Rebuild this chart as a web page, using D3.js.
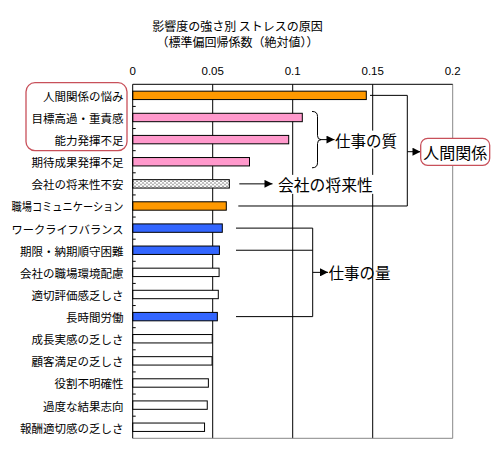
<!DOCTYPE html>
<html><head><meta charset="utf-8">
<script src="https://cdn.jsdelivr.net/npm/d3@7"></script>
<style>
html,body{margin:0;padding:0;background:#fff;}
svg{display:block;}
text{font-family:"Noto Sans CJK JP","Noto Sans",sans-serif;fill:#000;}
</style></head>
<body>
<script>
const categories = ["人間関係の悩み","目標高過・重責感","能力発揮不足","期待成果発揮不足","会社の将来性不安","職場コミュニケーション","ワークライフバランス","期限・納期順守困難","会社の職場環境配慮","適切評価感乏しさ","長時間労働","成長実感の乏しさ","顧客満足の乏しさ","役割不明確性","過度な結果志向","報酬適切感の乏しさ"];
const values = [0.146,0.106,0.0975,0.073,0.0604,0.0585,0.056,0.0542,0.0540,0.0535,0.0529,0.0497,0.0496,0.0473,0.0466,0.0449];
const groups = ["human","quality","quality","quality","future","human","amount","amount","none","none","amount","none","none","none","none","none"];
const tickValues = [0,0.05,0.1,0.15,0.2];
const tickLabels = ["0","0.05","0.1","0.15","0.2"];
const titleLines = ["影響度の強さ別  ストレスの原因","（標準偏回帰係数（絶対値））"];

const W=491,H=449;
const svg=d3.select("body").append("svg").attr("width",W).attr("height",H);
const defs=svg.append("defs");
const pat=defs.append("pattern").attr("id","dots").attr("patternUnits","userSpaceOnUse").attr("width",4).attr("height",3.4);
pat.append("rect").attr("width",4).attr("height",3.4).attr("fill","#fff");
pat.append("rect").attr("x",0.5).attr("y",0.5).attr("width",1).attr("height",1).attr("fill","#000");
pat.append("rect").attr("x",2.5).attr("y",2.2).attr("width",1).attr("height",1).attr("fill","#000");
defs.append("marker").attr("id","arr").attr("viewBox","0 0 10 10").attr("refX",10).attr("refY",5)
  .attr("markerWidth",9).attr("markerHeight",8).attr("markerUnits","userSpaceOnUse").attr("orient","auto")
  .append("path").attr("d","M0,0L10,5L0,10Z").attr("fill","#000");

const pL=132.7,pR=452.7,pT=84.3,pB=438.3;
const x=d3.scaleLinear().domain([0,0.2]).range([pL,pR]);
const y=d3.scaleBand().domain(categories).range([pT,pB]).padding(0);
const step=y.step(), barH=8.4;
const yc=c=>y(c)+step/2;
const fills={human:"#FF9900",quality:"#FF99CC",future:"url(#dots)",amount:"#3366FF",none:"#FFFFFF"};

// title
svg.selectAll("text.title").data(titleLines).join("text").attr("class","title")
  .attr("x",237.5).attr("y",(d,i)=>25+i*16.5).attr("text-anchor","middle").attr("dominant-baseline","central")
  .attr("font-size",12).text(d=>d);

// gridlines
svg.append("g").selectAll("line").data(tickValues.slice(1,4)).join("line")
  .attr("x1",d=>x(d)).attr("x2",d=>x(d)).attr("y1",pT).attr("y2",pB).attr("stroke","#000").attr("stroke-width",1);
svg.append("line").attr("x1",pR).attr("x2",pR).attr("y1",pT).attr("y2",pB).attr("stroke","#888");
svg.append("line").attr("x1",pL).attr("x2",pR).attr("y1",pB).attr("y2",pB).attr("stroke","#888");
svg.append("line").attr("x1",pL).attr("x2",pR).attr("y1",pT).attr("y2",pT).attr("stroke","#000");

// top axis labels
svg.append("g").selectAll("text").data(tickValues).join("text")
  .attr("x",d=>x(d)).attr("y",71).attr("text-anchor","middle").attr("dominant-baseline","central")
  .style("font-family",'"Liberation Sans Narrow","Liberation Sans",sans-serif').attr("font-size",11.5)
  .text((d,i)=>tickLabels[i]);

// bars
svg.append("g").selectAll("rect").data(categories).join("rect")
  .attr("x",x(0)).attr("y",d=>yc(d)-barH/2).attr("width",(d,i)=>x(values[i])-x(0)).attr("height",barH)
  .attr("fill",(d,i)=>fills[groups[i]]).attr("stroke","#000").attr("stroke-width",1);

// left axis
svg.append("line").attr("x1",pL).attr("x2",pL).attr("y1",pT).attr("y2",pB).attr("stroke","#000");
svg.append("g").selectAll("line").data(categories.slice(1)).join("line")
  .attr("x1",pL).attr("x2",pL+3).attr("y1",d=>y(d)).attr("y2",d=>y(d)).attr("stroke","#000");

// category labels
svg.append("g").selectAll("text").data(categories).join("text")
  .attr("x",123.5).attr("y",d=>yc(d)+0.5).attr("text-anchor","end").attr("dominant-baseline","central")
  .attr("font-size",11.5).text(d=>d)
  .each(function(){const l=this.getComputedTextLength(); if(l>112){d3.select(this).attr("textLength",112).attr("lengthAdjust","spacingAndGlyphs");}});

// annotations
const red="#C8505A";
const ann=svg.append("g").attr("fill","none").attr("stroke","#000").attr("stroke-width",1);
svg.append("rect").attr("x",26).attr("y",82.7).attr("width",101).attr("height",68).attr("rx",9)
  .attr("fill","none").attr("stroke",red).attr("stroke-width",1.3);

const c0=categories[0], c5=categories[5];
ann.append("path").attr("d",`M370,${yc(c0)}H407.3V${yc(c5)}H238.3`);
ann.append("line").attr("x1",407.3).attr("x2",420.5).attr("y1",151.7).attr("y2",151.7).attr("marker-end","url(#arr)");
svg.append("rect").attr("x",420.7).attr("y",138.3).attr("width",69).attr("height",27).attr("rx",7)
  .attr("fill","#fff").attr("stroke",red).attr("stroke-width",1.3);
svg.append("text").attr("x",455.2).attr("y",152).attr("text-anchor","middle").attr("dominant-baseline","central")
  .attr("font-size",16).text("人間関係");

const b1=y(categories[1])+5, b3=y(categories[3])+step-5, bm=(b1+b3)/2;
ann.append("path").attr("d",`M312,${b1}Q317.5,${b1} 317.5,${b1+5}V${bm-4}Q317.5,${bm} 321,${bm}Q317.5,${bm} 317.5,${bm+4}V${b3-5}Q317.5,${b3} 312,${b3}`);
ann.append("line").attr("x1",320).attr("x2",334.5).attr("y1",bm).attr("y2",bm).attr("marker-end","url(#arr)");
const tq=svg.append("g");
tq.append("rect").attr("x",335).attr("y",bm-9).attr("width",62).attr("height",18).attr("fill","#fff");
tq.append("text").attr("x",335).attr("y",bm+0.5).attr("dominant-baseline","central").attr("font-size",15.5).text("仕事の質");

const c4=categories[4];
ann.append("line").attr("x1",239.3).attr("x2",272.5).attr("y1",yc(c4)).attr("y2",yc(c4)).attr("marker-end","url(#arr)");
const tf=svg.append("g");
tf.append("rect").attr("x",277).attr("y",yc(c4)-9).attr("width",97).attr("height",19).attr("fill","#fff");
tf.append("text").attr("x",278).attr("y",yc(c4)+1).attr("dominant-baseline","central").attr("font-size",15.8).text("会社の将来性");

const amt=[categories[6],categories[7],categories[10]];
amt.forEach(c=>ann.append("line").attr("x1",236).attr("x2",312.7).attr("y1",yc(c)).attr("y2",yc(c)));
ann.append("line").attr("x1",312.7).attr("x2",312.7).attr("y1",yc(amt[0])).attr("y2",yc(amt[2]));
const am=yc(categories[8]);
ann.append("line").attr("x1",312.7).attr("x2",328).attr("y1",am).attr("y2",am).attr("marker-end","url(#arr)");
svg.append("text").attr("x",328.5).attr("y",am).attr("dominant-baseline","central").attr("font-size",15.5).text("仕事の量");
</script>
</body></html>
